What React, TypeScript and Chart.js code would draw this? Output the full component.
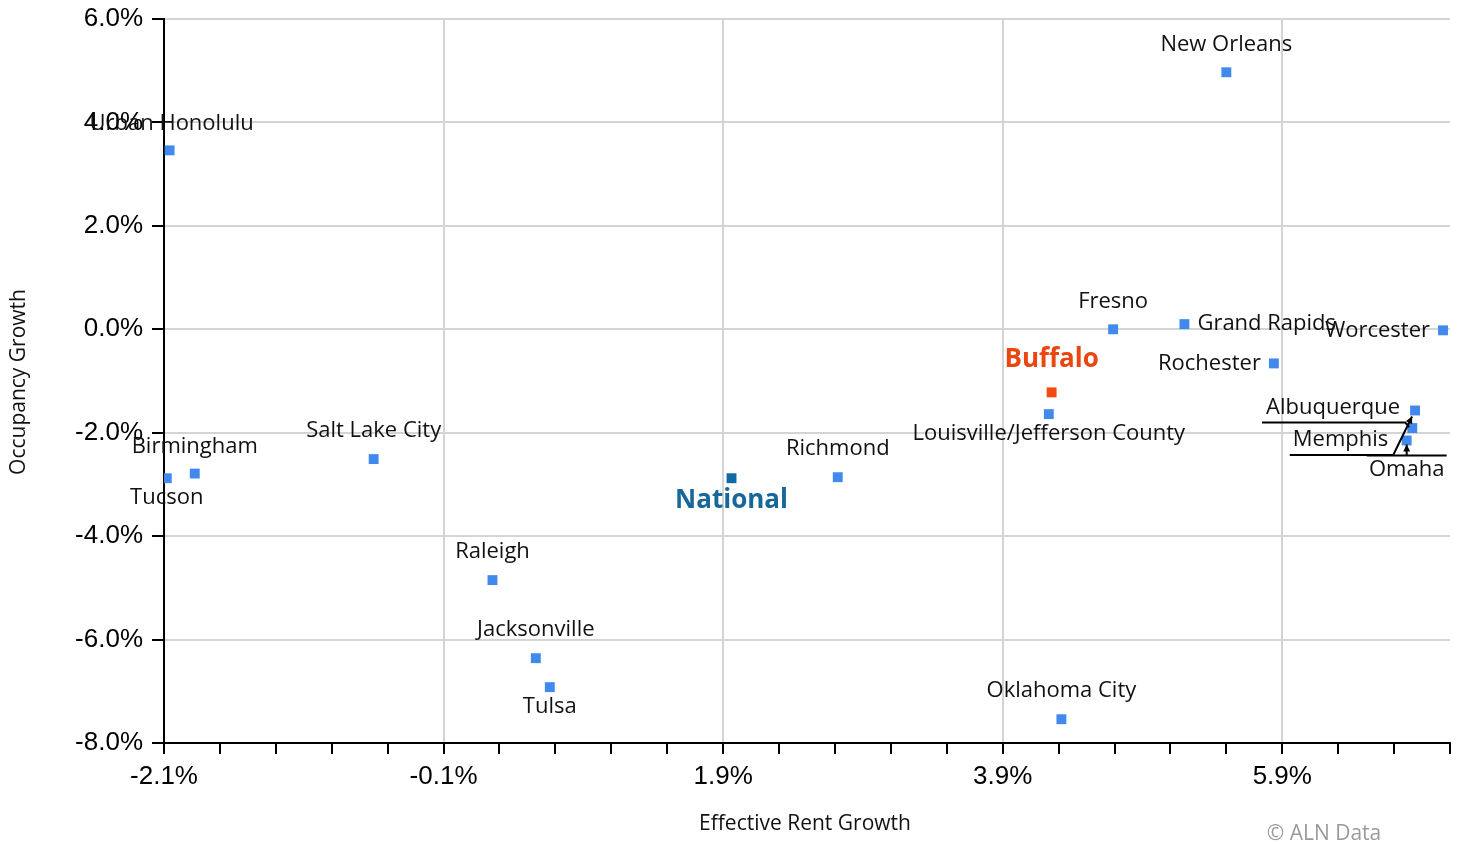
import React, { useEffect, useRef } from "react";
import { Chart, registerables } from "chart.js";

Chart.register(...registerables);

// ---- Data ----
const cityNames = [
  "Urban Honolulu", "Birmingham", "Tucson", "Salt Lake City", "Raleigh",
  "Jacksonville", "Tulsa", "Richmond", "Oklahoma City", "Louisville/Jefferson County",
  "Fresno", "Grand Rapids", "New Orleans", "Rochester", "Worcester",
  "Albuquerque", "Memphis", "Omaha",
];
const cityRentGrowth = [
  -2.06, -1.88, -2.08, -0.6, 0.25,
  0.56, 0.66, 2.72, 4.32, 4.23,
  4.69, 5.2, 5.5, 5.84, 7.05,
  6.85, 6.83, 6.79,
];
const cityOccupancyGrowth = [
  3.46, -2.79, -2.88, -2.51, -4.85,
  -6.36, -6.92, -2.86, -7.54, -1.64,
  0.0, 0.1, 4.97, -0.66, -0.02,
  -1.57, -1.91, -2.15,
];
const nationalName = "National";
const nationalRent = [1.96];
const nationalOccupancy = [-2.88];
const focusName = "Buffalo";
const focusRent = [4.25];
const focusOccupancy = [-1.22];

const xTickValues = [
  -2.1, -1.7, -1.3, -0.9, -0.5, -0.1, 0.3, 0.7, 1.1, 1.5, 1.9, 2.3,
  2.7, 3.1, 3.5, 3.9, 4.3, 4.7, 5.1, 5.5, 5.9, 6.3, 6.7, 7.1,
];
const xTitle = "Effective Rent Growth";
const yTitle = "Occupancy Growth";
const credit = "© ALN Data";

// ---- Label placement (style) ----
type Place = { mode: "above" | "below" | "right" | "left" | "custom"; dx?: number; dy?: number };
const placements: Record<string, Place> = {
  "Urban Honolulu": { mode: "above", dx: 2, dy: -27 },
  Birmingham: { mode: "above", dy: -27 },
  Tucson: { mode: "below", dy: 20 },
  "Salt Lake City": { mode: "above", dy: -28 },
  Raleigh: { mode: "above", dy: -28 },
  Jacksonville: { mode: "above", dy: -28 },
  Tulsa: { mode: "below", dy: 20 },
  Richmond: { mode: "above", dy: -28 },
  "Oklahoma City": { mode: "above", dy: -28 },
  "Louisville/Jefferson County": { mode: "below", dy: 20 },
  Fresno: { mode: "above", dy: -28 },
  "Grand Rapids": { mode: "right", dx: 13 },
  "New Orleans": { mode: "above", dy: -28 },
  Rochester: { mode: "left", dx: -13 },
  Worcester: { mode: "left", dx: -13 },
  Albuquerque: { mode: "custom" },
  Memphis: { mode: "custom" },
  Omaha: { mode: "custom" },
};

const LABEL_FONT = "22px 'Open Sans'";
const TITLE_FONT = "21px 'Open Sans'";
const BLUE = "#4289ee";

function arrowHead(ctx: CanvasRenderingContext2D, x1: number, y1: number, x2: number, y2: number) {
  const ang = Math.atan2(y2 - y1, x2 - x1);
  const len = 7;
  const w = 3.5;
  ctx.beginPath();
  ctx.moveTo(x2, y2);
  ctx.lineTo(x2 - len * Math.cos(ang) + w * Math.sin(ang), y2 - len * Math.sin(ang) - w * Math.cos(ang));
  ctx.lineTo(x2 - len * Math.cos(ang) - w * Math.sin(ang), y2 - len * Math.sin(ang) + w * Math.cos(ang));
  ctx.closePath();
  ctx.fill();
}

const labelPlugin = {
  id: "cityLabels",
  afterDatasetsDraw(chart: any) {
    const ctx: CanvasRenderingContext2D = chart.ctx;
    const meta = chart.getDatasetMeta(0);
    const pts: Record<string, { x: number; y: number }> = {};
    cityNames.forEach((n, i) => {
      const el = meta.data[i];
      pts[n] = { x: el.x, y: el.y };
    });
    ctx.save();
    ctx.font = LABEL_FONT;
    ctx.fillStyle = "#111";
    ctx.textBaseline = "middle";
    cityNames.forEach((n) => {
      const p = pts[n];
      const pl = placements[n];
      if (!pl) return;
      if (pl.mode === "above" || pl.mode === "below") {
        ctx.textAlign = "center";
        ctx.fillText(n, p.x + (pl.dx || 0), p.y + (pl.dy || 0));
      } else if (pl.mode === "right") {
        ctx.textAlign = "left";
        ctx.fillText(n, p.x + (pl.dx || 0), p.y + (pl.dy || 0));
      } else if (pl.mode === "left") {
        ctx.textAlign = "right";
        ctx.fillText(n, p.x + (pl.dx || 0), p.y + (pl.dy || 0));
      }
    });

    // Custom leader-line labels
    ctx.strokeStyle = "#000";
    ctx.fillStyle = "#111";
    ctx.lineWidth = 2;
    const a = pts["Albuquerque"];
    const m = pts["Memphis"];
    const o = pts["Omaha"];
    // Albuquerque
    ctx.textAlign = "right";
    const aRight = a.x - 15;
    const aW = ctx.measureText("Albuquerque").width;
    ctx.fillText("Albuquerque", aRight, a.y - 3);
    ctx.beginPath();
    ctx.moveTo(aRight - aW - 4, a.y + 12);
    ctx.lineTo(m.x - 7, a.y + 12);
    ctx.lineTo(m.x - 3, m.y - 1);
    ctx.stroke();
    // Memphis
    const mRight = m.x - 24;
    const mW = ctx.measureText("Memphis").width;
    ctx.fillText("Memphis", mRight, m.y + 12);
    ctx.beginPath();
    ctx.moveTo(mRight - mW - 3, m.y + 27);
    ctx.lineTo(m.x - 19, m.y + 27);
    ctx.lineTo(a.x - 3, a.y + 6);
    ctx.stroke();
    ctx.fillStyle = "#000";
    arrowHead(ctx, m.x - 19, m.y + 27, a.x - 3, a.y + 6);
    // Omaha
    ctx.fillStyle = "#111";
    ctx.textAlign = "center";
    ctx.fillText("Omaha", o.x, o.y + 29);
    ctx.beginPath();
    ctx.moveTo(o.x - 40, o.y + 15);
    ctx.lineTo(o.x + 40, o.y + 15);
    ctx.moveTo(o.x, o.y + 15);
    ctx.lineTo(o.x, o.y + 4);
    ctx.stroke();
    ctx.fillStyle = "#000";
    arrowHead(ctx, o.x, o.y + 15, o.x, o.y + 4);

    // National & Buffalo
    const nm = chart.getDatasetMeta(1).data[0];
    const bm = chart.getDatasetMeta(2).data[0];
    ctx.font = "bold 26px 'Open Sans'";
    ctx.textAlign = "center";
    ctx.fillStyle = "#17679a";
    ctx.fillText(nationalName, nm.x, nm.y + 22);
    ctx.fillStyle = "#ea4610";
    ctx.fillText(focusName, bm.x, bm.y - 33);

    // Axis titles and credit
    ctx.font = TITLE_FONT;
    ctx.fillStyle = "#111";
    ctx.textAlign = "center";
    ctx.fillText(xTitle, 805, 824);
    ctx.save();
    ctx.translate(19, 382);
    ctx.rotate(-Math.PI / 2);
    ctx.fillText(yTitle, 0, 0);
    ctx.restore();
    ctx.fillStyle = "#9a9a9a";
    ctx.fillText(credit, 1324, 834);
    ctx.restore();
  },
};

export default function App() {
  const ref = useRef<HTMLCanvasElement | null>(null);
  useEffect(() => {
    document.body.style.margin = "0";
    const canvas = ref.current!;
    const mk = (xs: number[], ys: number[]) => xs.map((x, i) => ({ x, y: ys[i] }));
    const chart = new Chart(canvas, {
      type: "scatter",
      data: {
        datasets: [
          {
            label: "Markets",
            data: mk(cityRentGrowth, cityOccupancyGrowth),
            backgroundColor: BLUE,
            borderWidth: 0,
            pointStyle: "rect",
            pointRadius: 7,
          },
          {
            label: nationalName,
            data: mk(nationalRent, nationalOccupancy),
            backgroundColor: "#0f6aa3",
            borderWidth: 0,
            pointStyle: "rect",
            pointRadius: 7,
          },
          {
            label: focusName,
            data: mk(focusRent, focusOccupancy),
            backgroundColor: "#f24a0f",
            borderWidth: 0,
            pointStyle: "rect",
            pointRadius: 7,
          },
        ],
      },
      options: {
        animation: false,
        responsive: false,
        devicePixelRatio: 1,
        layout: { padding: { top: 19, right: 7, left: 0, bottom: 0 } },
        plugins: { legend: { display: false }, tooltip: { enabled: false } },
        scales: {
          x: {
            type: "linear",
            min: -2.1,
            max: 7.1,
            afterBuildTicks: (scale: any) => {
              scale.ticks = xTickValues.map((v) => ({ value: v }));
            },
            afterFit: (scale: any) => {
              scale.height = 101;
              scale.paddingLeft = 0;
              scale.paddingRight = 0;
            },
            grid: {
              color: (c: any) => (c.index % 5 === 0 ? "#d4d4d4" : "rgba(0,0,0,0)"),
              lineWidth: 2,
              tickColor: "#000",
              tickWidth: 2,
              tickLength: 11,
            },
            border: { color: "#000", width: 2 },
            ticks: {
              autoSkip: false,
              maxRotation: 0,
              padding: 7,
              color: "#000",
              font: { family: "'Liberation Sans'", size: 26 },
              callback: (v: any, i: number) => (i % 5 === 0 ? `${Number(v).toFixed(1)}%` : ""),
            },
          },
          y: {
            type: "linear",
            min: -8,
            max: 6,
            afterFit: (scale: any) => {
              scale.width = 164;
              scale.paddingTop = 0;
              scale.paddingBottom = 0;
            },
            grid: {
              color: "#d4d4d4",
              lineWidth: 2,
              tickColor: "#000",
              tickWidth: 2,
              tickLength: 12,
            },
            border: { color: "#000", width: 2 },
            ticks: {
              stepSize: 2,
              padding: 9,
              color: "#000",
              font: { family: "'Liberation Sans'", size: 26 },
              callback: (v: any) => `${Number(v).toFixed(1)}%`,
            },
          },
        },
      },
      plugins: [labelPlugin],
    } as any);
    return () => chart.destroy();
  }, []);
  return (
    <div style={{ width: 1457, height: 844 }}>
      <canvas ref={ref} width={1457} height={844} style={{ display: "block" }} />
    </div>
  );
}
